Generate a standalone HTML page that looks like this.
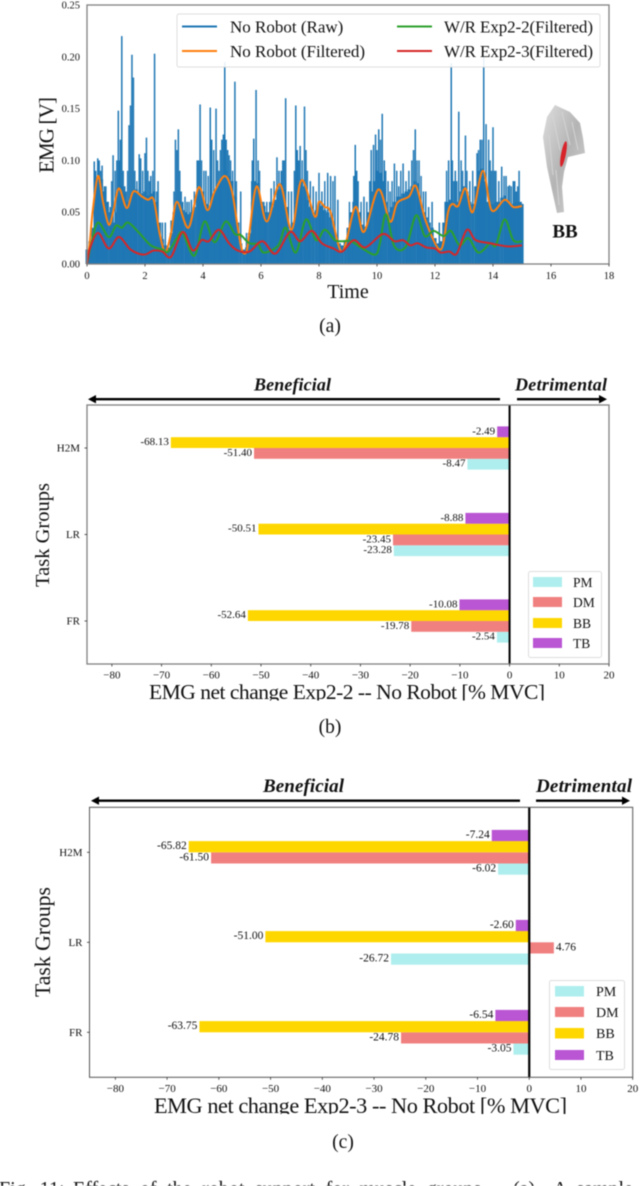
<!DOCTYPE html>
<html lang="en">
<head>
<meta charset="utf-8">
<title>EMG results figure</title>
<style>
html,body{margin:0;padding:0;background:#fff;width:640px;height:1186px;overflow:hidden}
svg{display:block;filter:blur(.4px)}
text{font-family:"Liberation Serif",serif;fill:#111}
</style>
</head>
<body>
<svg id="figure" width="640" height="1186" viewBox="0 0 640 1186" xmlns="http://www.w3.org/2000/svg">
  <defs>
    <clipPath id="clip-b"><rect x="100" y="680" width="500" height="20.5"/></clipPath>
    <clipPath id="clip-c"><rect x="100" y="1094" width="500" height="20"/></clipPath>
    <linearGradient id="muscle-grad" x1="0" y1="0" x2="1" y2="1">
      <stop offset="0" stop-color="#dedede"/><stop offset=".5" stop-color="#b4b4b4"/><stop offset="1" stop-color="#d6d6d6"/>
    </linearGradient>
  </defs>
  <rect width="640" height="1186" fill="#fff"/>
  <g id="panel-a"></g>
  <g id="panel-b"></g>
  <g id="panel-c"></g>

  <!-- Panel a legend -->
  <g>
    <rect x="177" y="14" width="423" height="53" rx="2" fill="#fff" fill-opacity=".9" stroke="#ddd"/>
    <line x1="182" y1="26.5" x2="217" y2="26.5" stroke="#1f77b4" stroke-width="1.9"/>
    <line x1="182" y1="51" x2="217" y2="51" stroke="#ff7f0e" stroke-width="1.9"/>
    <line x1="397" y1="26.5" x2="432" y2="26.5" stroke="#2ca02c" stroke-width="1.9"/>
    <line x1="397" y1="51" x2="432" y2="51" stroke="#d62728" stroke-width="1.9"/>
    <text x="230" y="32.5" font-size="17">No Robot (Raw)</text>
    <text x="230" y="57" font-size="17">No Robot (Filtered)</text>
    <text x="444" y="32.5" font-size="17" textLength="149">W/R Exp2-2(Filtered)</text>
    <text x="444" y="57" font-size="17" textLength="149">W/R Exp2-3(Filtered)</text>
  </g>

  <!-- Muscle illustration -->
  <g>
    <path d="M555 105 L570 112 L580 123 L583 138 L585 153 L568 157 L564 172 L562 187 L564 212 L557 213 L552 190 L547 167 L543 137 L547 117 Z" fill="url(#muscle-grad)"/>
    <path d="M552 112 L560 150 M562 112 L570 145 M572 122 L578 150 M549 135 L553 175 M556 170 L559 205" fill="none" stroke="#d4d4d4" stroke-width="1"/>
    <ellipse cx="563.5" cy="154" rx="2.4" ry="13" transform="rotate(11 563.5 154)" fill="#d8232a"/>
    <text x="565" y="237.5" font-size="19" font-weight="bold" text-anchor="middle">BB</text>
  </g>

  <!-- Axis titles -->
  <text transform="translate(53.5,135) rotate(-90)" font-size="21" text-anchor="middle" textLength="76">EMG [V]</text>
  <text x="348" y="298" font-size="20" text-anchor="middle">Time</text>
  <text x="330" y="332" font-size="19.5" text-anchor="middle">(a)</text>

  <text transform="translate(49,535) rotate(-90)" font-size="20.5" text-anchor="middle">Task Groups</text>
  <g clip-path="url(#clip-b)">
    <text x="149" y="699" font-size="21.5" textLength="396">EMG net change Exp2-2 -- No Robot [% MVC]</text>
  </g>
  <text x="330" y="733" font-size="19.5" text-anchor="middle">(b)</text>

  <text transform="translate(50,942) rotate(-90)" font-size="21.7" text-anchor="middle">Task Groups</text>
  <g clip-path="url(#clip-c)">
    <text x="154" y="1113" font-size="22.3" textLength="413">EMG net change Exp2-3 -- No Robot [% MVC]</text>
  </g>
  <text x="343" y="1148" font-size="19.5" text-anchor="middle">(c)</text>

  <!-- Beneficial / detrimental annotations -->
  <g>
    <text x="254" y="390.5" font-size="18" font-weight="bold" font-style="italic" textLength="77">Beneficial</text>
    <text x="515" y="390.5" font-size="18" font-weight="bold" font-style="italic" textLength="92">Detrimental</text>
    <path d="M500 398 H96 V395 L88 399.2 L96 403.4 V400.4 H500 Z" fill="#000"/>
    <path d="M517 398 H599 V395 L607 399.2 L599 403.4 V400.4 H517 Z" fill="#000"/>
  </g>
  <g>
    <text x="263" y="792" font-size="19" font-weight="bold" font-style="italic" textLength="81">Beneficial</text>
    <text x="536" y="792" font-size="19" font-weight="bold" font-style="italic" textLength="96">Detrimental</text>
    <path d="M520 799.5 H99 V796.5 L91 800.7 L99 804.9 V801.9 H520 Z" fill="#000"/>
    <path d="M536 799.5 H622 V796.5 L630 800.7 L622 804.9 V801.9 H536 Z" fill="#000"/>
  </g>

  <!-- Legends b / c -->
  <g>
    <rect x="528.5" y="571.5" width="73" height="86" rx="2" fill="#fff" stroke="#ddd"/>
    <rect x="533" y="577" width="29" height="10" fill="#afeeee"/>
    <rect x="533" y="597" width="29" height="10" fill="#f08080"/>
    <rect x="533" y="618" width="29" height="10" fill="#ffd700"/>
    <rect x="533" y="638" width="29" height="10" fill="#ba55d3"/>
    <text x="573" y="587" font-size="13.5">PM</text>
    <text x="573" y="607" font-size="13.5">DM</text>
    <text x="573" y="628" font-size="13.5">BB</text>
    <text x="573" y="648" font-size="13.5">TB</text>
  </g>
  <g>
    <rect x="549.5" y="980.5" width="75" height="89" rx="2" fill="#fff" stroke="#ddd"/>
    <rect x="555" y="986" width="29" height="10.5" fill="#afeeee"/>
    <rect x="555" y="1007" width="29" height="10" fill="#f08080"/>
    <rect x="555" y="1028" width="29" height="10.5" fill="#ffd700"/>
    <rect x="555" y="1050" width="29" height="10" fill="#ba55d3"/>
    <text x="596" y="996" font-size="14">PM</text>
    <text x="596" y="1017" font-size="14">DM</text>
    <text x="596" y="1038" font-size="14">BB</text>
    <text x="596" y="1060" font-size="14">TB</text>
  </g>

  <!-- Figure caption, cut off by the bottom edge -->
  <g font-size="20">
    <text x="-1" y="1195" word-spacing="4">Fig. 11:</text>
    <text x="73" y="1195" word-spacing="5.6">Effects of the robot support for muscle groups</text>
    <text x="513" y="1195">(a)</text>
    <text x="553" y="1195" word-spacing="5">A sample</text>
  </g>
</svg>

<script>
/* ---------- Panel (a) data ---------- */
var emgTickLabels = [0, 0.05, 0.10, 0.15, 0.20, 0.25];
var timeTickLabels = [0, 2, 4, 6, 8, 10, 12, 14, 16, 18];

var rawBodyValues = [
 .014,.022,.035,.065,.08,.082,.07,.06,.05,.04,
 .05,.065,.075,.068,.06,.065,.07,.072,.068,.068,
 .07,.066,.068,.07,.06,.04,.024,.018,.016,.03,
 .05,.06,.055,.052,.05,.048,.05,.055,.066,.075,
 .07,.058,.055,.065,.07,.075,.08,.085,.09,.085,
 .08,.065,.04,.02,.014,.016,.03,.06,.08,.078,
 .06,.056,.05,.05,.055,.062,.072,.078,.072,.055,
 .033,.04,.06,.075,.082,.075,.062,.055,.05,.052,
 .06,.056,.052,.05,.045,.035,.024,.02,.018,.022,
 .035,.05,.06,.062,.05,.038,.036,.05,.07,.08,
 .09,.088,.08,.06,.05,.055,.06,.065,.065,.068,
 .07,.072,.075,.08,.078,.06,.05,.045,.04,.035,
 .025,.02,.022,.04,.06,.062,.06,.058,.06,.07,
 .075,.07,.06,.058,.075,.09,.092,.08,.06,.056,
 .058,.06,.06,.064,.066,.062,.058,.058,.06,.06,.058];

var spikeTimes = [.25,.3,.37,.42,.52,.6,.65,.9,1.03,1.08,1.15,1.2,1.3,1.45,1.5,1.55,1.6,1.8,1.85,2.0,2.05,2.2,2.33,2.45,2.6,2.7,2.9,3.05,3.1,3.15,3.3,3.45,3.6,3.8,3.85,3.9,4.1,4.25,4.3,4.45,4.5,4.65,4.75,4.85,4.95,5.1,5.3,5.5,5.75,5.83,5.9,6.05,6.35,6.55,6.62,6.7,6.85,7.05,7.2,7.25,7.35,7.5,7.55,7.7,7.8,8.0,8.1,8.3,8.4,8.55,8.65,9.2,9.25,9.3,9.55,9.65,9.8,9.88,9.95,10.06,10.18,10.25,10.45,10.6,10.75,10.9,11.0,11.26,11.32,11.45,11.6,11.78,11.9,12.15,12.35,12.47,12.56,12.7,12.82,12.95,13.05,13.2,13.45,13.56,13.68,13.76,13.9,14.0,14.1,14.3,14.45,14.57,14.7,14.8,14.9,14.97];
var spikeValues = [.099,.09,.102,.1,.095,.075,.075,.105,.1,.148,.12,.22,.075,.134,.153,.202,.18,.106,.102,.107,.122,.085,.203,.08,.04,.04,.042,.12,.11,.13,.06,.06,.062,.1,.1,.154,.09,.151,.12,.15,.1,.12,.195,.11,.1,.176,.07,.03,.121,.168,.1,.06,.073,.103,.09,.09,.16,.07,.153,.11,.114,.152,.11,.08,.075,.088,.07,.088,.085,.085,.062,.085,.115,.09,.065,.06,.11,.115,.125,.13,.145,.1,.07,.097,.075,.097,.08,.11,.13,.1,.07,.055,.06,.04,.06,.1,.194,.09,.147,.09,.124,.08,.107,.12,.2,.135,.1,.132,.09,.094,.085,.076,.08,.07,.09,.06];

var mediumSpikeTimes = [.33,.47,.57,.72,.8,.85,.97,1.12,1.25,1.35,1.4,1.65,1.72,1.92,2.1,2.15,2.27,2.4,3.0,3.2,3.25,3.38,3.52,3.7,3.95,4.03,4.18,4.37,4.55,4.6,4.7,4.8,4.9,5.02,5.15,5.68,5.7,5.95,6.1,6.2,6.3,6.45,6.75,6.8,6.95,7.15,7.3,7.42,7.6,7.9,8.2,8.48,9.05,9.35,9.45,9.75,10.0,10.12,10.3,10.38,10.52,10.68,10.82,11.1,11.2,11.38,11.52,11.68,12.4,12.6,12.65,12.75,12.9,13.1,13.3,13.5,13.62,13.85,13.95,14.05,14.2,14.38,14.52,14.63,14.75,14.85];
var mediumSpikeValues = [.08,.09,.07,.06,.055,.08,.09,.1,.09,.07,.09,.09,.08,.09,.09,.08,.09,.07,.07,.09,.07,.065,.06,.07,.1,.09,.085,.11,.09,.11,.125,.12,.105,.09,.08,.08,.1,.09,.06,.06,.06,.08,.1,.1,.07,.09,.1,.1,.09,.07,.08,.08,.06,.08,.06,.08,.11,.12,.09,.08,.08,.09,.09,.09,.1,.1,.085,.07,.09,.1,.08,.08,.1,.09,.09,.11,.12,.12,.09,.09,.08,.085,.075,.075,.08,.075];

var noRobotFilteredTimes = [0,.1,.2,.38,.55,.75,.9,1.1,1.37,1.6,1.9,2.1,2.3,2.5,2.7,2.9,3.1,3.5,3.85,4.15,4.4,4.75,5.0,5.2,5.35,5.5,5.6,5.85,6.2,6.65,7.05,7.4,7.85,8.0,8.2,8.4,8.8,9.25,9.55,10.05,10.45,10.7,11.1,11.35,11.7,12.2,12.45,12.6,12.8,13.05,13.3,13.65,13.95,14.4,14.7,15];
var noRobotFilteredValues = [0,.022,.052,.085,.06,.038,.05,.073,.054,.07,.065,.062,.062,.03,.012,.03,.06,.035,.074,.052,.07,.085,.07,.035,.013,.012,.03,.075,.041,.077,.033,.081,.046,.06,.055,.05,.012,.055,.031,.072,.041,.059,.065,.075,.04,.014,.05,.058,.056,.073,.05,.09,.052,.062,.055,.056];

var exp22FilteredTimes = [0,.15,.38,.75,1.0,1.2,1.42,1.8,2.2,2.6,2.8,3.1,3.3,3.7,4.05,4.4,4.78,5.1,5.3,5.6,5.9,6.1,6.6,6.85,7.2,7.55,7.9,8.2,8.55,8.8,9.1,9.5,9.94,10.1,10.31,10.6,11.0,11.35,11.65,11.95,12.3,12.55,12.85,13.15,13.5,13.9,14.1,14.4,14.7,15];
var exp22FilteredValues = [0,.02,.04,.026,.037,.035,.04,.03,.018,.014,.012,.025,.03,.008,.041,.021,.041,.029,.028,.02,.019,.011,.018,.035,.011,.043,.023,.033,.023,.022,.022,.015,.009,.02,.048,.017,.017,.047,.027,.032,.027,.032,.018,.025,.011,.02,.018,.043,.023,.022];

var exp23FilteredTimes = [0,.1,.38,.75,1.1,1.5,1.95,2.3,2.6,2.9,3.3,3.65,3.95,4.2,4.55,4.9,5.2,5.6,6.05,6.5,7.0,7.35,7.75,8.1,8.5,8.8,9.2,9.6,10.2,10.6,10.9,11.15,11.4,11.7,12.0,12.2,12.5,12.75,13.1,13.4,13.9,14.5,15];
var exp23FilteredValues = [0,.015,.03,.015,.026,.014,.009,.013,.012,.007,.031,.013,.023,.022,.033,.02,.013,.012,.022,.01,.031,.022,.032,.02,.015,.012,.023,.016,.029,.022,.023,.018,.02,.016,.015,.011,.012,.01,.033,.023,.02,.017,.018];

/* ---------- Panels (b) and (c) data ---------- */
var taskGroups = ["FR", "LR", "H2M"];
var netChangeTicks = [-80, -70, -60, -50, -40, -30, -20, -10, 0, 10, 20];

var exp22PM = [-2.54, -23.28, -8.47];
var exp22DM = [-19.78, -23.45, -51.40];
var exp22BB = [-52.64, -50.51, -68.13];
var exp22TB = [-10.08, -8.88, -2.49];

var exp23PM = [-3.05, -26.72, -6.02];
var exp23DM = [-24.78, 4.76, -61.50];
var exp23BB = [-63.75, -51.00, -65.82];
var exp23TB = [-6.54, -2.60, -7.24];

/* ---------- Drawing helpers ---------- */
var NS = "http://www.w3.org/2000/svg";
function make(tag, parent, attrs) {
  var el = document.createElementNS(NS, tag);
  for (var k in attrs) { el.setAttribute(k, attrs[k]); }
  parent.appendChild(el);
  return el;
}
function smoothPath(xs, ys) {
  var d = "M" + xs[0].toFixed(2) + " " + ys[0].toFixed(2);
  for (var i = 0; i < xs.length - 1; i++) {
    var i0 = Math.max(i - 1, 0), i3 = Math.min(i + 2, xs.length - 1);
    var c1x = xs[i] + (xs[i + 1] - xs[i0]) / 6, c1y = ys[i] + (ys[i + 1] - ys[i0]) / 6;
    var c2x = xs[i + 1] - (xs[i3] - xs[i]) / 6, c2y = ys[i + 1] - (ys[i3] - ys[i]) / 6;
    d += "C" + c1x.toFixed(2) + " " + c1y.toFixed(2) + " " + c2x.toFixed(2) + " " + c2y.toFixed(2) + " " + xs[i + 1].toFixed(2) + " " + ys[i + 1].toFixed(2);
  }
  return d;
}

/* ---------- Panel (a) ---------- */
(function () {
  var g = document.getElementById("panel-a");
  var L = 87, R = 609, T = 5, B = 264;
  function xA(t) { return L + (t / 18) * (R - L); }
  function yA(v) { return B - (v / 0.25) * (B - T); }

  for (var i = 0; i < rawBodyValues.length; i++) {
    var bodyBar = make("rect", g, { x: xA(i * 0.1 - 0.05), y: yA(rawBodyValues[i]), width: xA(0.1) - xA(0) + 0.15, height: B - yA(rawBodyValues[i]), fill: "#1f77b4" });
    
    
  }
  for (var m = 0; m < mediumSpikeTimes.length; m++) {
    var midSpike = make("rect", g, { x: xA(mediumSpikeTimes[m]) - 0.7, y: yA(mediumSpikeValues[m]), width: 1.4, height: B - yA(mediumSpikeValues[m]), fill: "#1f77b4" });
    
    
  }
  for (var s = 0; s < spikeTimes.length; s++) {
    var spike = make("rect", g, { x: xA(spikeTimes[s]) - 0.75, y: yA(spikeValues[s]), width: 1.5, height: B - yA(spikeValues[s]), fill: "#1f77b4" });
    
    
  }

  var orange = make("path", g, { d: smoothPath(noRobotFilteredTimes.map(xA), noRobotFilteredValues.map(yA)), fill: "none", stroke: "#ff7f0e", "stroke-width": 2 });
  
  
  var green = make("path", g, { d: smoothPath(exp22FilteredTimes.map(xA), exp22FilteredValues.map(yA)), fill: "none", stroke: "#2ca02c", "stroke-width": 2 });
  
  
  var red = make("path", g, { d: smoothPath(exp23FilteredTimes.map(xA), exp23FilteredValues.map(yA)), fill: "none", stroke: "#d62728", "stroke-width": 2 });
  
  

  var frame = make("rect", g, { x: L, y: T, width: R - L, height: B - T, fill: "none", stroke: "#808080", "stroke-width": 1.3 });
  
  

  emgTickLabels.forEach(function (v) {
    var lab = make("text", g, { x: 80, y: yA(v) + 3.5, "font-size": 10.5, "text-anchor": "end" });
    lab.textContent = v.toFixed(2);
    
    
  });
  timeTickLabels.forEach(function (t) {
    var tick = make("line", g, { x1: xA(t), x2: xA(t), y1: B, y2: B + 2.5, stroke: "#333", "stroke-width": 0.8 });
    
    
    var lab = make("text", g, { x: xA(t), y: 279, "font-size": 10.5, "text-anchor": "middle" });
    lab.textContent = String(t);
    
    
  });
})();

/* ---------- Panels (b) and (c) ---------- */
function drawBars(panelId, box, series) {
  var g = document.getElementById(panelId);
  function xB(v) { return box.L + ((v + 85) / 105) * (box.R - box.L); }
  function yB(c) { return box.yFR - c * box.catStep; }
  var order = ["PM", "DM", "BB", "TB"];
  var colors = { PM: "#afeeee", DM: "#f08080", BB: "#ffd700", TB: "#ba55d3" };
  /* offset of each bar's top edge from the category centre, in bar heights */
  var topOffset = { TB: -2, BB: -1, DM: 0, PM: 1 };

  order.forEach(function (name) {
    series[name].forEach(function (v, c) {
      var y0 = yB(c) + topOffset[name] * box.barH;
      var bar = make("rect", g, { x: Math.min(xB(v), xB(0)), y: y0, width: Math.abs(xB(v) - xB(0)), height: box.barH, fill: colors[name] });
      
      
      var lab = make("text", g, { x: v < 0 ? xB(v) - 2 : xB(v) + 2, y: y0 + box.barH / 2 + 2.5, "font-size": box.valueFont, "text-anchor": v < 0 ? "end" : "start" });
      lab.textContent = v.toFixed(2);
      
      
    });
  });

  var zero = make("line", g, { x1: xB(0), x2: xB(0), y1: box.T, y2: box.B, stroke: "#000", "stroke-width": box.zeroW });
  
  

  var frame = make("rect", g, { x: box.L, y: box.T, width: box.R - box.L, height: box.B - box.T, fill: "none", stroke: box.frameColor, "stroke-width": box.frameW });
  
  

  netChangeTicks.forEach(function (t) {
    var tick = make("line", g, { x1: xB(t), x2: xB(t), y1: box.B, y2: box.B + 2.5, stroke: "#333", "stroke-width": 0.8 });
    
    
    var lab = make("text", g, { x: xB(t), y: box.B + 14.5, "font-size": 11, "text-anchor": "middle" });
    lab.textContent = String(t).replace("-", "\u2212");
    
    
  });
  taskGroups.forEach(function (name, c) {
    var tick = make("line", g, { x1: box.L - 2.5, x2: box.L, y1: yB(c), y2: yB(c), stroke: "#333", "stroke-width": 0.8 });
    
    
    var lab = make("text", g, { x: box.L - 7, y: yB(c) + 3.5, "font-size": 11, "text-anchor": "end" });
    lab.textContent = name;
    
    
  });
}

drawBars("panel-b",
  { L: 87, R: 609, T: 405, B: 664, yFR: 621, catStep: 86.5, barH: 10.8, valueFont: 11, zeroW: 2, frameColor: "#808080", frameW: 1.3 },
  { PM: exp22PM, DM: exp22DM, BB: exp22BB, TB: exp22TB });
drawBars("panel-c",
  { L: 89.5, R: 632.7, T: 807.3, B: 1077.3, yFR: 1032.3, catStep: 90, barH: 11.2, valueFont: 11.5, zeroW: 2.2, frameColor: "#555", frameW: 1 },
  { PM: exp23PM, DM: exp23DM, BB: exp23BB, TB: exp23TB });
</script>
</body>
</html>
